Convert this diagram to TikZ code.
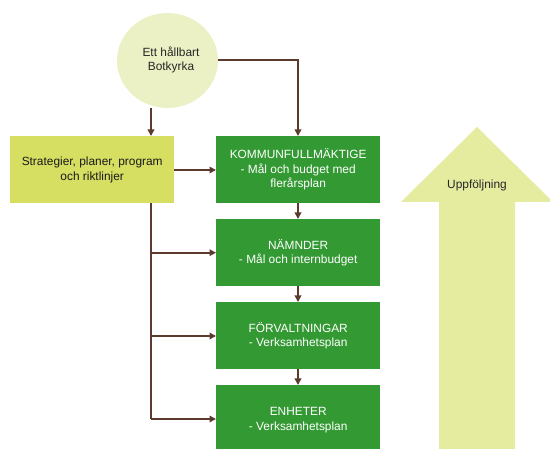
\documentclass[tikz,border=0pt]{standalone}
\usepackage{fontspec}
\setmainfont{Liberation Sans}
\usetikzlibrary{arrows.meta,shapes.geometric}
\definecolor{boxgreen}{RGB}{51,153,51}
\definecolor{stratyellow}{RGB}{214,223,98}
\definecolor{circyellow}{RGB}{235,241,196}
\definecolor{arrowyellow}{RGB}{229,236,160}
\definecolor{linebrown}{RGB}{92,59,46}
\begin{document}
\begin{tikzpicture}[x=1pt,y=-1pt,
  txt/.style={font=\fontsize{11.9}{14.5}\selectfont, align=center},
  greenbox/.style={txt, fill=boxgreen, text=white, minimum width=164pt, minimum height=67pt, inner sep=0pt, anchor=north west},
  conn/.style={draw=linebrown, line width=2pt, -{Triangle[length=6.5pt,width=6.5pt]}},
  plainline/.style={draw=linebrown, line width=2pt}]
\useasboundingbox (0,0) rectangle (550,449);
% follow-up arrow
\fill[arrowyellow] (439,460) -- (439,202) -- (401,202) -- (477,127) -- (553,202) -- (515,202) -- (515,460) -- cycle;
\node[txt, text=black!85] (upp) at (477,185) {Uppföljning};
% circle
\node[txt, fill=circyellow, ellipse, minimum width=101pt, minimum height=95pt, inner sep=0pt, text=black!85] (circ) at (167.5,60.5) {};
\node[txt, text=black!85] (circtxt) at (171,60) {Ett hållbart\\Botkyrka};
% strategier box
\node[txt, fill=stratyellow, minimum width=164pt, minimum height=67pt, inner sep=0pt, anchor=north west, text=black!90] (strat) at (10,136) {Strategier, planer, program\\och riktlinjer};
% green boxes
\node[greenbox] (kf) at (216,136) {KOMMUNFULLMÄKTIGE\\- Mål och budget med\\flerårsplan};
\node[greenbox] (nam) at (216,219) {NÄMNDER\\- Mål och internbudget};
\node[greenbox] (forv) at (216,302) {FÖRVALTNINGAR\\- Verksamhetsplan};
\node[greenbox, minimum height=70pt] (enh) at (216,385) {\raisebox{-3pt}{\begin{tabular}{@{}c@{}}ENHETER\\- Verksamhetsplan\end{tabular}}};
% connectors
\coordinate (xl) at (151,0);
\coordinate (xr) at (298,0);
\draw[conn] (circ.south -| xl) -- (strat.north -| xl);
\draw[conn] (circ.east) -| (kf.north -| xr);
\draw[conn] (strat.east |- 0,170) -- (kf.west |- 0,170);
\draw[conn] (kf.south -| xr) -- (nam.north -| xr);
\draw[conn] (nam.south -| xr) -- (forv.north -| xr);
\draw[conn] (forv.south -| xr) -- (enh.north -| xr);
\coordinate (yb) at (0,419);
\draw[plainline] (strat.south -| xl) -- (xl |- yb);
\draw[conn] (xl |- nam.west) -- (nam.west);
\draw[conn] (xl |- 0,336) -- (forv.west |- 0,336);
\draw[conn] (xl |- yb) -- (enh.west |- yb);
\end{tikzpicture}
\end{document}
